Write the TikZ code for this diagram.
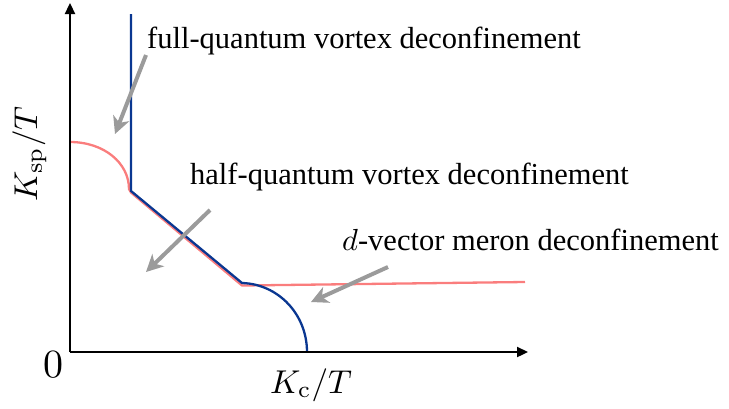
\documentclass[tikz,border=0pt]{standalone}
\usepackage[no-math]{fontspec}
\setmainfont{Liberation Serif}
\newfontfamily\tnr{Liberation Serif}
\usetikzlibrary{arrows.meta}
\definecolor{myblue}{RGB}{10,55,145}
\definecolor{myred}{RGB}{250,125,125}
\definecolor{mygray}{RGB}{155,155,155}
\newcommand{\bigmath}[2]{\scalebox{#1}{\fontsize{10}{12}\selectfont$#2$}}
\begin{document}
\begin{tikzpicture}[x=1pt,y=-1pt,
  axis/.style={line width=2.3pt,-{Triangle[length=11pt,width=10pt]}},
  bline/.style={draw=myblue,line width=2.3pt,line join=round},
  rline/.style={draw=myred,line width=2.3pt,line join=round},
  garrow/.style={draw=mygray,line width=4pt,-{Stealth[length=17pt,width=17pt,inset=5pt]}},
  lbl/.style={font=\tnr\fontsize{30.5}{36}\selectfont,inner sep=0pt,anchor=base west},
  mlbl/.style={inner sep=0pt}]
\useasboundingbox (0,0) rectangle (729,408);
% key points
\coordinate (O) at (70,352);
\coordinate (ytop) at (70,3);
\coordinate (xend) at (528,352);
\coordinate (vtop) at (131,14);
\coordinate (c1) at (131,191);
\coordinate (c2) at (242,284);
\coordinate (rstart) at (70,142);
\coordinate (rend) at (525,282);
\coordinate (bend) at (307,352);
% phase boundaries
\draw[rline] (rstart) .. controls (104,142) and (129,163) .. (129,189) -- ([yshift=-1.5]c1) -- ([yshift=-1.5]c2) -- (rend);
\draw[bline] (vtop) -- (c1) -- ([yshift=1]c2) .. controls (278,284) and (307,314) .. (bend);
% axes
\draw[axis] (O) -- (ytop);
\draw[axis] (O) -- (xend);
% labels
\node[lbl] (full) at (147,48) {full-quantum vortex deconfinement};
\node[lbl] (half) at (190,184) {half-quantum vortex deconfinement};
\node[lbl] (dvec) at (342,250) {\bigmath{3.05}{d}-vector meron deconfinement};
\node[mlbl,anchor=base west] (kc) at (270,393) {\bigmath{3.3}{K_{\rm c}/T}};
\node[mlbl,anchor=base,rotate=90] (ksp) at (37,154) {\bigmath{3.3}{K_{\rm sp}/T}};
\node[mlbl] (zero) at (53,365) {\bigmath{4}{0}};
% gray arrows
\coordinate (a1s) at (146,55);
\coordinate (a1e) at (115,134);
\coordinate (a2s) at (210,210);
\coordinate (a2e) at (146,272);
\coordinate (a3s) at (388,267);
\coordinate (a3e) at (311,302);
\draw[garrow] (a1s) -- (a1e);
\draw[garrow] (a2s) -- (a2e);
\draw[garrow] (a3s) -- (a3e);
\end{tikzpicture}
\end{document}
